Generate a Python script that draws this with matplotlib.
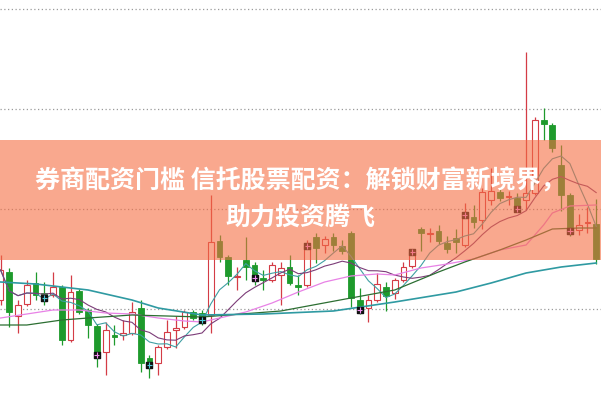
import numpy as np
import pandas as pd
import matplotlib
matplotlib.use('Agg')
import matplotlib.pyplot as plt
from matplotlib.patches import Rectangle

plt.rcParams['font.family'] = ['Noto Sans CJK SC', 'DejaVu Sans']

# 日K数据：开、高、低、收
opens = [10.45, 11.85, 9.65, 10.25, 11.3, 10.8, 10.7, 11.1, 8.45, 10.9,
         9.95, 9.15, 7.85, 8.7, 8.7, 8.8, 10.05, 7.55, 7.3, 8.1,
         8.95, 9.1, 9.85, 9.8, 9.7, 13.4, 12.6, 11.6, 12.45, 12.2,
         11.55, 11.45, 11.7, 12.1, 11.2, 11.2, 13.6, 13.2, 13.6, 13.15,
         13.8, 10.45, 10.05, 10.45, 11.1, 10.8, 11.45, 12.15, 14.0, 13.75,
         13.9, 13.3, 13.55, 13.2, 14.6, 14.45, 15.45, 15.85, 15.6, 15.55,
         15.45, 15.8, 19.45, 19.2, 17.2, 15.7, 13.95, 14.3, 14.25]
highs = [12.7, 12.05, 10.45, 11.45, 11.85, 11.35, 11.85, 11.2, 11.7, 11.0,
         10.05, 9.25, 9.35, 9.2, 9.45, 10.35, 10.45, 7.7, 8.2, 9.45,
         9.65, 9.95, 9.95, 9.95, 15.7, 13.7, 12.7, 12.1, 13.6, 12.35,
         11.95, 12.35, 12.35, 12.7, 11.7, 13.45, 13.8, 13.65, 13.8, 13.45,
         13.9, 11.05, 10.7, 11.8, 11.35, 11.55, 12.35, 12.95, 14.1, 14.05,
         14.2, 13.65, 14.0, 15.3, 15.2, 16.05, 17.05, 16.1, 15.9, 15.8,
         22.85, 19.6, 20.05, 19.3, 18.2, 15.8, 14.75, 15.1, 15.5]
lows = [10.2, 9.1, 8.8, 10.15, 10.45, 10.2, 10.6, 8.2, 8.35, 9.75,
        8.55, 7.1, 6.7, 8.2, 8.45, 8.7, 6.85, 6.55, 6.7, 8.0,
        8.05, 9.0, 9.45, 9.2, 8.8, 12.35, 11.2, 10.95, 11.45, 11.2,
        10.95, 11.35, 10.2, 11.2, 10.7, 11.1, 12.3, 12.8, 12.9, 12.75,
        10.1, 9.75, 9.35, 10.35, 9.9, 10.5, 11.35, 12.05, 12.9, 13.35,
        13.25, 12.8, 12.8, 13.1, 14.05, 14.0, 15.2, 15.4, 15.2, 14.9,
        14.95, 15.7, 18.45, 17.85, 14.9, 13.65, 13.7, 13.8, 12.25]
closes = [11.95, 9.85, 10.2, 11.2, 10.7, 10.55, 11.1, 8.45, 10.85, 9.85,
          9.2, 7.7, 8.95, 8.6, 8.8, 9.85, 7.3, 7.2, 8.1, 8.85,
          9.05, 9.85, 9.55, 9.45, 13.35, 12.6, 11.65, 11.65, 12.1, 11.55,
          11.45, 12.2, 12.05, 11.3, 11.1, 13.15, 13.05, 13.5, 13.2, 12.9,
          10.55, 9.95, 10.45, 11.25, 10.65, 11.45, 12.1, 12.85, 13.8, 13.8,
          13.4, 13.0, 13.35, 14.7, 14.35, 15.85, 15.9, 15.55, 15.65, 15.0,
          15.8, 19.45, 19.25, 18.05, 15.7, 13.9, 14.2, 14.35, 12.5]

# 周期标记 K 线
mark_idx = [5, 11, 17, 23, 29, 35, 41, 47, 53, 59, 65]
mark_inner = ['#4cc8d8', '#f08cf0', '#4cc8d8', '#4cc8d8', '#f08cf0', '#f08cf0',
              '#f08cf0', '#f08cf0', '#f08cf0', '#f08cf0', '#f08cf0']

# 慢速均线
ma20_idx = [0, 3, 6, 9, 12, 15, 18, 21, 23, 25, 28, 31, 34, 37, 40, 43, 45,
            48, 51, 54, 57, 60, 62, 63, 65, 68]
ma20_val = [9.55, 9.75, 9.95, 9.95, 9.8, 9.75, 9.55, 9.4, 9.35, 9.55, 9.85,
            10.3, 10.85, 11.35, 11.65, 11.75, 11.7, 12.05, 12.25, 12.5, 12.95,
            13.2, 14.2, 14.8, 15.15, 15.2]
ma30_idx = [0, 3, 7, 10, 15, 23, 32, 40, 45, 50, 53, 57, 60, 63, 66, 68]
ma30_val = [9.2, 9.2, 9.45, 9.55, 9.7, 9.6, 9.9, 10.55, 10.95, 11.85, 12.35,
            12.95, 13.45, 14.0, 14.05, 14.05]
ma60_idx = [0, 4, 7, 10, 15, 18, 23, 30, 38, 45, 52, 56, 60, 64, 68]
ma60_val = [11.35, 11.25, 11.1, 10.95, 10.45, 10.05, 9.7, 9.75, 9.9, 10.35,
            10.85, 11.3, 11.8, 12.1, 12.3]

grid_levels = [10, 15, 20, 25]
title_1 = '券商配资门槛 信托股票配资：解锁财富新境界，'
title_2 = '助力投资腾飞'

df = pd.DataFrame({'open': opens, 'high': highs, 'low': lows, 'close': closes})
ma5 = df['close'].rolling(5, min_periods=1).mean()
ma10 = df['close'].rolling(10, min_periods=1).mean()

red = '#d43c46'
green = '#1e9a2c'

fig = plt.figure(figsize=(6.01, 4.0), dpi=100)
ax = fig.add_axes([0, 0, 1, 1])
ax.set_xlim(-0.06, 68.55)
ax.set_ylim(5.45, 25.45)
ax.axis('off')

for g in grid_levels:
    ax.axhline(g, color='#9a9a9a', lw=0.9, ls=(0, (1, 2)), zorder=1)

idx = np.arange(len(df))
up = df['close'] >= df['open']
w = 0.66

# 影线
ax.vlines(idx[up], df['low'][up], df['high'][up], color=red, lw=0.9, zorder=2)
ax.vlines(idx[~up], df['low'][~up], df['high'][~up], color=green, lw=0.9, zorder=2)

# 实体
body_lo = np.minimum(df['open'], df['close'])
body_h = np.maximum(np.abs(df['close'] - df['open']), 0.06)
ax.bar(idx[up], body_h[up], w, bottom=body_lo[up], facecolor='white',
       edgecolor=red, lw=0.8, zorder=3)
ax.bar(idx[~up], body_h[~up], w, bottom=body_lo[~up], facecolor=green,
       edgecolor=green, lw=0.6, zorder=3)

# 均线
ax.plot(idx, ma5, color='#3f9fa3', lw=0.8, zorder=4)
ax.plot(idx, ma10, color='#7c3c78', lw=0.8, zorder=4)
ax.plot(ma20_idx, ma20_val, color='#e882e6', lw=0.9, zorder=4)
ax.plot(ma30_idx, ma30_val, color='#2c6e32', lw=0.9, zorder=4)
ax.plot(ma60_idx, ma60_val, color='#2f9aa2', lw=1.2, zorder=4)

# 标记
mk_close = [closes[i] for i in mark_idx]
ax.scatter(mark_idx, mk_close, marker='s', s=22, color='#111111', zorder=5)
ax.scatter(mark_idx, mk_close, marker='+', s=14, c=mark_inner, lw=0.8, zorder=6)

# 横幅
ax.add_patch(Rectangle((0, 0.35), 1, 0.30, transform=ax.transAxes,
                       facecolor='#f56e43', alpha=0.6, lw=0, zorder=10))
ax.text(0.5, 0.5475, title_1, transform=ax.transAxes, ha='center', va='center',
        fontsize=18, fontweight='bold', color='white', zorder=11)
ax.text(0.5, 0.455, title_2, transform=ax.transAxes, ha='center', va='center',
        fontsize=18, fontweight='bold', color='white', zorder=11)

fig.savefig('out.png', dpi=100)
